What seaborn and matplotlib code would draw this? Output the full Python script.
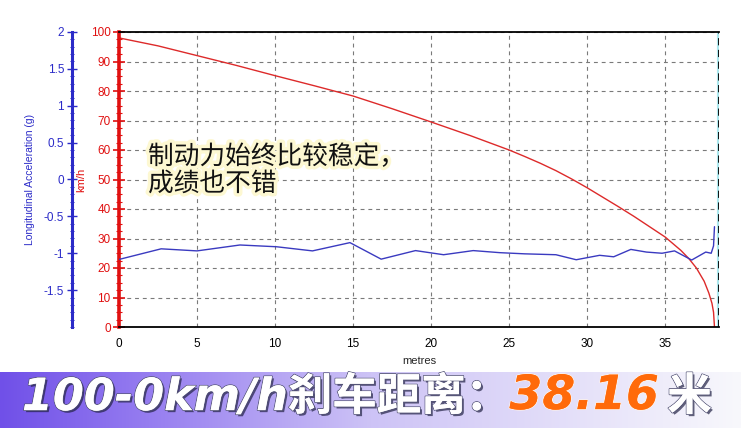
import numpy as np
import pandas as pd
import matplotlib
matplotlib.use("Agg")
import matplotlib.pyplot as plt
import matplotlib.patheffects as pe
from matplotlib.ticker import MultipleLocator, FixedLocator
import seaborn as sns

# ---- data ----
speed_dist = [0, 2.5, 5, 7.5, 10, 12.5, 15, 17.5, 20, 22.5, 25, 26, 27, 28, 29, 30, 31, 32, 33, 34, 35,
              36, 36.5, 37, 37.5, 37.8, 38, 38.1, 38.16]
speed_kmh = [98, 95.3, 92, 88.7, 85.2, 81.8, 78.3, 74, 69.5, 64.9, 60, 57.8, 55.5, 53, 50.2, 47.2,
             44, 40.8, 37.5, 34, 30.5, 26, 23.3, 20, 15.5, 11.5, 8, 5, 0]

acc_dist = [0, 2.7, 5.0, 7.75, 10.1, 12.4, 14.8, 16.8, 19.0, 20.8, 22.7, 24.4, 26, 28, 29.3, 30, 30.8,
            31.7, 32.8, 33.8, 34.8, 35.6, 36.7, 37.6, 37.95, 38.1, 38.16]
acc_g = [-1.084, -0.94, -0.968, -0.888, -0.912, -0.968, -0.856, -1.08, -0.964, -1.02, -0.964, -0.992,
         -1.008, -1.02, -1.088, -1.06, -1.028, -1.048, -0.948, -0.984, -1.0, -0.968, -1.092, -0.984,
         -1.0, -0.9, -0.64]

x_ticks = [0, 5, 10, 15, 20, 25, 30, 35]
kmh_ticks = [0, 10, 20, 30, 40, 50, 60, 70, 80, 90, 100]
g_ticks = [-1.5, -1, -0.5, 0, 0.5, 1, 1.5, 2]
g_tick_labels = ["-1.5", "-1", "-0.5", "0", "0.5", "1", "1.5", "2"]

note_text = "制动力始终比较稳定，\n成绩也不错"
banner_parts = [("100-0km/h刹车距离：", "white"), ("38.16", "#ff6a0a"), ("米", "white")]

speed_df = pd.DataFrame({"metres": speed_dist, "kmh": speed_kmh})
acc_df = pd.DataFrame({"metres": acc_dist, "g": acc_g})

# ---- style ----
sns.set_style("white")
plt.rcParams["font.family"] = ["Liberation Sans", "Noto Sans CJK SC", "DejaVu Sans"]

W, H = 741, 428
fig = plt.figure(figsize=(W / 100, H / 100), dpi=100)

RED = "#e01010"
BLUE = "#2b2bc8"

ax = fig.add_axes([119 / W, 1 - 327 / H, (719 - 119) / W, (327 - 32) / H])
ax2 = ax.twinx()

sns.lineplot(data=speed_df, x="metres", y="kmh", ax=ax, color="#dd2a2a", lw=1.0, sort=False)
sns.lineplot(data=acc_df, x="metres", y="g", ax=ax2, color="#3a3ac0", lw=1.0, sort=False)

XMAX = 38.45
ax.set_xlim(0, XMAX)
ax.set_ylim(0, 100)
ax2.set_ylim(-2, 2)

# grid
ax.set_axisbelow(True)
ax.xaxis.set_major_locator(FixedLocator(x_ticks))
ax.xaxis.set_minor_locator(MultipleLocator(1.25))
ax.yaxis.set_major_locator(FixedLocator(kmh_ticks))
ax.yaxis.set_minor_locator(MultipleLocator(2.5))
ax.grid(True, which="major", color="#7a7a7a", lw=0.8, ls=(0, (3.5, 3.5)))

# spines
for s in ["top", "bottom"]:
    ax.spines[s].set_color("black")
    ax.spines[s].set_linewidth(1.3)
ax.spines["left"].set_color(RED)
ax.spines["left"].set_linewidth(2.6)
ax.spines["right"].set_visible(False)
ax2.spines["top"].set_visible(False)
ax2.spines["bottom"].set_visible(False)
ax2.spines["right"].set_visible(False)
ax.axvline(XMAX, color="#aee8ee", lw=3, zorder=1)
ax.axvline(XMAX, color="black", lw=1.3, ls=(0, (4, 2.5)), zorder=2)

# red (km/h) axis
ax.tick_params(axis="y", which="major", direction="inout", length=8, width=1.2, colors=RED,
               labelsize=8.5, pad=2)
ax.tick_params(axis="y", which="minor", direction="inout", length=4, width=0.8, colors=RED)
ax.set_ylabel("km/h", color=RED, fontsize=8, labelpad=3)

# x axis
ax.tick_params(axis="x", which="major", direction="out", length=5, width=1.0, colors="black",
               labelsize=8.5, pad=3)
ax.tick_params(axis="x", which="minor", direction="out", length=3, width=0.8, colors="black")
ax.set_xlabel("metres", fontsize=8, labelpad=4)

# blue (g) axis moved to the left
ax2.yaxis.set_ticks_position("left")
ax2.yaxis.set_label_position("left")
ax2.spines["left"].set_visible(True)
ax2.spines["left"].set_position(("outward", 34))
ax2.spines["left"].set_color(BLUE)
ax2.spines["left"].set_linewidth(2.2)
ax2.yaxis.set_major_locator(FixedLocator(g_ticks))
ax2.set_yticklabels(g_tick_labels)
ax2.yaxis.set_minor_locator(MultipleLocator(0.1))
ax2.tick_params(axis="y", which="major", direction="inout", length=7, width=1.0, colors=BLUE,
                labelsize=8.5, pad=2)
ax2.tick_params(axis="y", which="minor", direction="inout", length=3, width=0.7, colors=BLUE)
ax2.set_ylabel("Longitudinal Acceleration (g)", color=BLUE, fontsize=7.5, labelpad=6)

# annotation
ax.text(1.86, 62, note_text, fontsize=18.5, color="#111111", linespacing=1.05,
        family=["Noto Sans CJK SC", "DejaVu Sans"], va="top", ha="left",
        path_effects=[pe.withStroke(linewidth=5, foreground="#fdf8d2")], zorder=5)

# ---- banner ----
bax = fig.add_axes([0, 0, 1, (H - 372) / H])
stops = np.array([[112, 80, 232], [150, 125, 240], [205, 195, 246], [248, 248, 252]]) / 255
pos = np.array([0, 0.2, 0.5, 1.0])
xs = np.linspace(0, 1, 400)
grad = np.stack([np.interp(xs, pos, stops[:, i]) for i in range(3)], axis=-1)
bax.imshow(grad[None, :, :], aspect="auto", extent=[0, 1, 0, 1])
bax.set_xlim(0, 1)
bax.set_ylim(0, 1)
bax.axis("off")

banner_font = ["DejaVu Sans", "Noto Sans CJK SC"]
shadow = [pe.withSimplePatchShadow(offset=(1.5, -1.5), shadow_rgbFace="#222244", alpha=0.7),
          pe.withStroke(linewidth=1.2, foreground="#555577"), pe.Normal()]
offsets = [0, -1, 6]
sizes = [32, 34, 32]
prev = None
for (txt, col), off, fs in zip(banner_parts, offsets, sizes):
    fx = shadow if col == "white" else [pe.withStroke(linewidth=1.2, foreground="#fff3e8"), pe.Normal()]
    if prev is None:
        prev = bax.text(22 / W, 0.32, txt, fontsize=fs, fontweight="bold", style="italic",
                        color=col, family=banner_font, va="baseline", ha="left", path_effects=fx)
    else:
        prev = bax.annotate(txt, xy=(1, 0), xycoords=prev, xytext=(off, 0), textcoords="offset points",
                            fontsize=fs, fontweight="bold", style="italic", color=col,
                            family=banner_font, va="bottom", ha="left", path_effects=fx)

fig.savefig("out.png", dpi=100, facecolor="white")
